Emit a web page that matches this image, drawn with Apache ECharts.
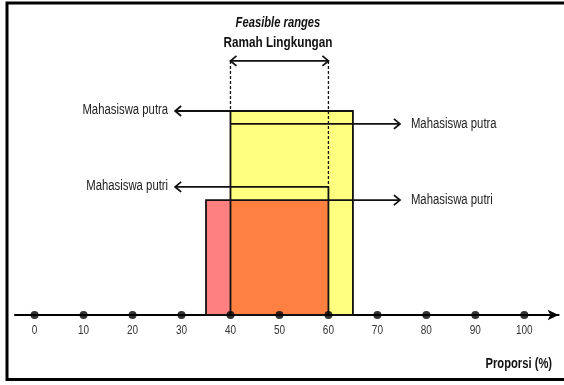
<!DOCTYPE html>
<html>
<head>
<meta charset="utf-8">
<script src="https://cdn.jsdelivr.net/npm/echarts@6/dist/echarts.min.js"></script>
<style>
html,body{margin:0;padding:0;background:#fff;}
#chart{width:564px;height:385px;}
</style>
</head>
<body>
<div id="chart"></div>
<script>
// ---- data ----
const categories = ['Mahasiswa putra', 'Mahasiswa putri'];
const rangeStart = [40, 35];          // Proporsi (%) lower bound
const rangeEnd = [65, 60];            // Proporsi (%) upper bound
const barLevel = [68, 38.3];          // schematic bar heights
const leftArrowLevel = [68, 42.7];    // level of the left-pointing arrows
const rightArrowLevel = [63.7, 38.3]; // level of the right-pointing arrows
const leftArrowFrom = [40, 60];
const rightArrowFrom = [40, 60];
const leftArrowTip = 28.7;
const rightArrowTip = 74.6;
const feasibleRange = [40, 60];
const feasibleLevel = 84.7;
const titleLines = ['Feasible ranges', 'Ramah Lingkungan'];
const titleLevels = [97.3, 90.7];
const tickValues = [0, 10, 20, 30, 40, 50, 60, 70, 80, 90, 100];
const tickLabels = ['0', '10', '20', '30', '40', '50', '60', '70', '80', '90', '100'];
const axisName = 'Proporsi (%)';

const FONT = "'Liberation Sans', Arial, sans-serif";
const colors = ['#FFFF80', '#FF8080'];
const overlapColor = '#FF8040';

function chevron(tip, dir, len, half) {
  return [[tip[0] - dir * len, tip[1] - half], tip, [tip[0] - dir * len, tip[1] + half]];
}
function narrowText(text, x, y, font, align, sx, fill) {
  return {type: 'text', x: x, y: y, scaleX: sx,
    style: {text: text, x: 0, y: 0, align: align, verticalAlign: 'middle', font: font, fill: fill || '#222'}};
}

const chart = echarts.init(document.getElementById('chart'), null, {renderer: 'canvas'});

const option = {
  animation: false,
  backgroundColor: '#fff',
  grid: {left: 15, right: 5.4, top: 15, bottom: 70},
  xAxis: {
    type: 'value', min: -4, max: 107,
    axisLine: {show: true, onZero: false, symbol: ['none', 'arrow'], symbolSize: [8, 11],
      lineStyle: {color: '#000', width: 2}},
    axisTick: {show: false},
    splitLine: {show: false},
    axisLabel: {show: false}
  },
  yAxis: {type: 'value', min: 0, max: 100, show: false},
  graphic: [{
    type: 'polyline', shape: {points: [[640, 3], [7, 3], [7, 379.5], [640, 379.5]]},
    style: {fill: 'none', stroke: '#000', lineWidth: 3}, z: 100, silent: true
  }],
  series: [
    { // fills
      type: 'custom', z: 2,
      data: categories.map((c, i) => [i]),
      renderItem: function (params, api) {
        const i = api.value(0);
        const p0 = api.coord([rangeStart[i], barLevel[i]]);
        const p1 = api.coord([rangeEnd[i], 0]);
        return {type: 'rect', shape: {x: p0[0], y: p0[1], width: p1[0] - p0[0], height: p1[1] - p0[1]},
          style: {fill: colors[i]}};
      }
    },
    { // overlap
      type: 'custom', z: 3,
      data: [[0]],
      renderItem: function (params, api) {
        const s = Math.max(rangeStart[0], rangeStart[1]);
        const e = Math.min(rangeEnd[0], rangeEnd[1]);
        const h = Math.min(barLevel[0], barLevel[1]);
        const p0 = api.coord([s, h]);
        const p1 = api.coord([e, 0]);
        return {type: 'rect', shape: {x: p0[0], y: p0[1], width: p1[0] - p0[0], height: p1[1] - p0[1]},
          style: {fill: overlapColor}};
      }
    },
    { // outlines
      type: 'custom', z: 4,
      data: categories.map((c, i) => [i]),
      renderItem: function (params, api) {
        const i = api.value(0);
        const p0 = api.coord([rangeStart[i], barLevel[i]]);
        const p1 = api.coord([rangeEnd[i], 0]);
        return {type: 'rect', shape: {x: p0[0], y: p0[1], width: p1[0] - p0[0], height: p1[1] - p0[1]},
          style: {fill: 'none', stroke: '#111', lineWidth: 1.8}};
      }
    },
    { // arrows and labels per group
      type: 'custom', z: 5,
      data: categories.map((c, i) => [i]),
      renderItem: function (params, api) {
        const i = api.value(0);
        const lineStyle = {stroke: '#111', lineWidth: 1.8, fill: 'none'};
        const la = api.coord([leftArrowFrom[i], leftArrowLevel[i]]);
        const lt = api.coord([leftArrowTip, leftArrowLevel[i]]);
        const ra = api.coord([rightArrowFrom[i], rightArrowLevel[i]]);
        const rt = api.coord([rightArrowTip, rightArrowLevel[i]]);
        const f = '14px ' + FONT;
        const children = [
          {type: 'polyline', shape: {points: [la, lt]}, style: lineStyle},
          {type: 'polyline', shape: {points: chevron(lt, -1, 6, 5)}, style: lineStyle},
          {type: 'polyline', shape: {points: [ra, rt]}, style: lineStyle},
          {type: 'polyline', shape: {points: chevron(rt, 1, 6, 5)}, style: lineStyle},
          narrowText(categories[i], lt[0] - 7, lt[1] - 0.5, f, 'right', 0.81),
          narrowText(categories[i], rt[0] + 11, rt[1], f, 'left', 0.81)
        ];
        const v0 = api.coord([leftArrowFrom[i], leftArrowLevel[i]]);
        const v1 = api.coord([leftArrowFrom[i], barLevel[i]]);
        children.push({type: 'polyline', shape: {points: [v0, v1]}, style: lineStyle});
        return {type: 'group', children: children};
      }
    },
    { // feasible range arrow, dashed guides and titles
      type: 'custom', z: 5,
      data: [[0]],
      renderItem: function (params, api) {
        const lineStyle = {stroke: '#111', lineWidth: 1.8, fill: 'none'};
        const a = api.coord([feasibleRange[0], feasibleLevel]);
        const b = api.coord([feasibleRange[1], feasibleLevel]);
        const children = [
          {type: 'polyline', shape: {points: [a, b]}, style: lineStyle},
          {type: 'polyline', shape: {points: chevron(a, -1, 6, 5)}, style: lineStyle},
          {type: 'polyline', shape: {points: chevron(b, 1, 6, 5)}, style: lineStyle}
        ];
        const guideEnds = [leftArrowLevel[0], leftArrowLevel[1]];
        feasibleRange.forEach(function (x, k) {
          const top = api.coord([x, feasibleLevel]);
          const bot = api.coord([x, guideEnds[k]]);
          children.push({type: 'line', shape: {x1: top[0], y1: top[1], x2: bot[0], y2: bot[1]},
            style: {stroke: '#111', lineWidth: 1.3, lineDash: [3, 2]}});
        });
        const mid = (feasibleRange[0] + feasibleRange[1]) / 2;
        titleLines.forEach(function (t, k) {
          const p = api.coord([mid, titleLevels[k]]);
          children.push(narrowText(t, p[0] - 1.5, p[1], (k === 0 ? 'italic bold ' : 'bold ') + '14px ' + FONT,
            'center', k === 0 ? 0.8 : 0.84, '#111'));
        });
        return {type: 'group', children: children};
      }
    },
    { // tick labels and axis name
      type: 'custom', z: 5,
      data: tickValues.map((v, i) => [v, i]),
      renderItem: function (params, api) {
        const v = api.value(0);
        const i = api.value(1);
        const p = api.coord([v, 0]);
        const children = [narrowText(tickLabels[i], p[0], p[1] + 15, '13px ' + FONT, 'center', 0.77, '#333')];
        if (i === tickLabels.length - 1) {
          const e = api.coord([107, 0]);
          children.push(narrowText(axisName, e[0] - 6.5, p[1] + 49, 'bold 14px ' + FONT, 'right', 0.8, '#111'));
        }
        return {type: 'group', children: children};
      }
    },
    { // tick dots
      type: 'scatter', z: 10,
      data: tickValues.map(v => [v, 0]),
      symbol: 'circle', symbolSize: 8,
      itemStyle: {color: '#000'},
      silent: true
    }
  ]
};
chart.setOption(option);
</script>
</body>
</html>
